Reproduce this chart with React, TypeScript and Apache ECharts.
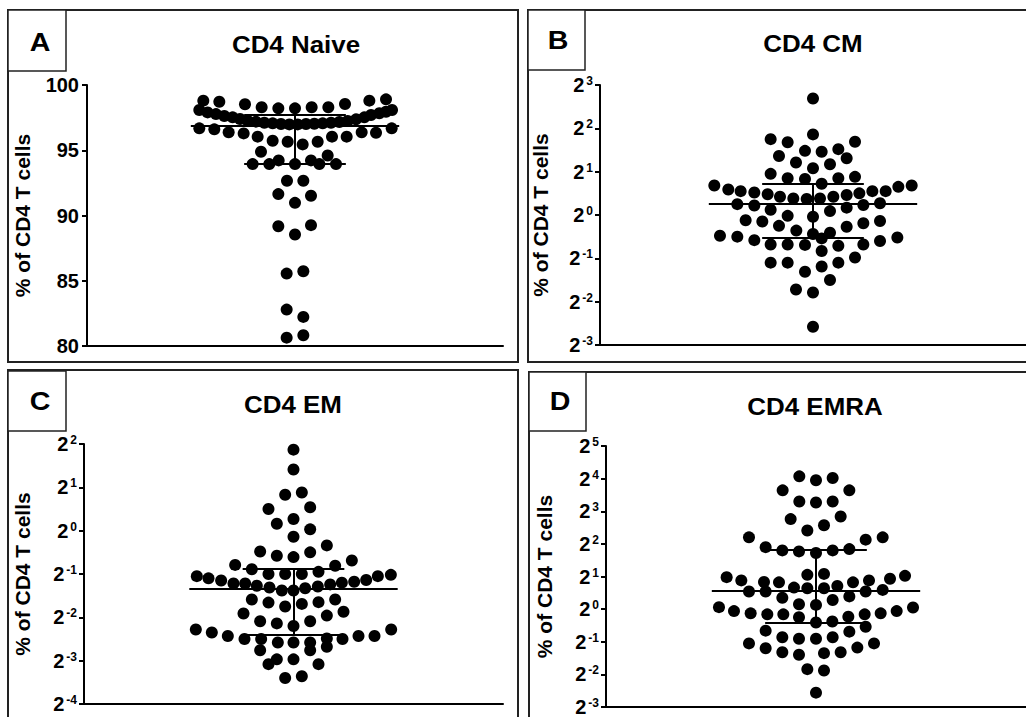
import React, { useEffect, useRef } from "react";
import * as echarts from "echarts";

const FONT = "'Liberation Sans', Arial, Helvetica, sans-serif";

// ---------------- DATA ----------------
// Each point: [swarm offset (dot columns from centre), value]

// Panel A – CD4 Naive, % of CD4 T cells (linear axis)
const naivePoints: number[][] = [
  [-5.5, 98.8], [-4.54, 98.72], [-3.0, 98.52], [-2.0, 98.29], [-1.0, 98.21], [0, 98.21],
  [1.0, 98.29], [2.0, 98.29], [3.0, 98.54], [4.46, 98.8], [5.46, 98.9],
  [-5.74, 98.08], [-5.24, 97.9], [-4.74, 97.77], [-4.24, 97.62], [-3.74, 97.52], [-3.3, 97.39],
  [-2.84, 97.26], [-2.34, 97.19], [-1.84, 97.11], [-1.34, 97.06], [-0.84, 97.01], [-0.34, 96.98],
  [0.16, 96.98], [0.66, 97.01], [1.16, 97.03], [1.66, 97.06], [2.16, 97.11], [2.66, 97.16],
  [3.16, 97.24], [3.66, 97.37], [4.16, 97.52], [4.56, 97.7], [5.06, 97.83], [5.46, 97.95], [5.82, 98.08],
  [-5.74, 96.68], [-4.84, 96.6], [-3.98, 96.37], [-3.08, 96.29], [-2.24, 96.04], [-1.34, 95.73],
  [-0.44, 95.65], [0.46, 95.45], [1.36, 95.65], [2.22, 96.04], [3.1, 96.04], [4.0, 96.37],
  [4.86, 96.34], [5.8, 96.68],
  [-2.04, 94.88], [1.96, 94.6], [-2.54, 93.94], [-1.54, 93.94], [-0.98, 94.22], [0, 93.94],
  [0.96, 94.22], [1.46, 93.94], [2.46, 93.94],
  [-0.48, 92.66], [0.5, 92.66], [-1.0, 91.64], [0, 90.97], [0.96, 91.51], [-1.0, 89.18],
  [0, 88.54], [0.96, 89.26], [-0.5, 85.55], [0.5, 85.73], [-0.5, 82.79], [0.5, 82.23],
  [-0.5, 80.64], [0.5, 80.82],
];
const naiveSummary = [96.9, 97.75, 93.99]; // median, upper quartile, lower quartile
const naiveTicks = [80, 85, 90, 95, 100];

// Panel B – CD4 CM, values as log2(% of CD4 T cells)
const cmPoints: number[][] = [
  [0, 2.69], [0, 1.86], [-2.54, 1.75], [-1.52, 1.68], [2.52, 1.69], [-2.04, 1.36], [-0.48, 1.48],
  [0.52, 1.46], [1.52, 1.52], [2.02, 1.31], [-1.02, 1.21], [0, 1.08], [1.02, 1.17], [-2.54, 0.95],
  [-1.52, 0.85], [-0.48, 0.83], [0.52, 0.72], [1.52, 0.85], [2.52, 0.88],
  [-5.92, 0.68], [-5.08, 0.59], [-4.34, 0.55], [-3.52, 0.52], [-2.72, 0.48], [-1.98, 0.42],
  [-1.18, 0.38], [-0.38, 0.37], [0.42, 0.38], [1.22, 0.42], [2.02, 0.46], [2.78, 0.5],
  [3.56, 0.55], [4.36, 0.55], [5.12, 0.65], [5.92, 0.68],
  [-4.54, 0.25], [-3.52, 0.22], [-2.54, 0.12], [-1.52, -0.02], [0, -0.04], [1.02, 0.09],
  [2.02, 0.17], [3.02, 0.23], [4.02, 0.27],
  [-4.04, -0.12], [-3.04, -0.15], [-2.04, -0.25], [-1.0, -0.36], [0, -0.44], [1.02, -0.41],
  [2.02, -0.27], [3.02, -0.19], [4.02, -0.14],
  [-5.58, -0.48], [-4.54, -0.5], [-3.52, -0.58], [-2.54, -0.68], [-1.52, -0.68], [-0.48, -0.69],
  [0.52, -0.54], [1.52, -0.71], [3.02, -0.68], [4.02, -0.6], [5.06, -0.52],
  [0.52, -0.83], [2.52, -0.98], [-2.54, -1.1], [-1.52, -1.1], [0.52, -1.19], [1.52, -1.1],
  [-0.48, -1.31], [1.02, -1.5], [-1.02, -1.72], [0, -1.79], [0, -2.58],
];
const cmSummary = [0.25, 0.72, -0.53];
const cmTicks = [-3, -2, -1, 0, 1, 2, 3];

// Panel C – CD4 EM, log2(% of CD4 T cells)
const emPoints: number[][] = [
  [0, 1.87], [0, 1.41], [-0.5, 0.83], [0.5, 0.88], [-1.5, 0.5], [1.0, 0.54], [-1.0, 0.16],
  [0, 0.27], [1.0, 0.03], [0, -0.14],
  [-2.0, -0.48], [-1.0, -0.58], [0, -0.61], [1.0, -0.5], [2.0, -0.34],
  [-3.5, -0.79], [-2.5, -0.89], [-1.5, -1.0], [-0.5, -1.0], [0.5, -1.0], [1.5, -0.95],
  [2.5, -0.81], [3.5, -0.69],
  [-5.8, -1.05], [-5.1, -1.1], [-4.34, -1.15], [-3.6, -1.22], [-2.9, -1.22], [-2.2, -1.27],
  [-1.44, -1.31], [-0.7, -1.38], [0, -1.38], [0.7, -1.33], [1.46, -1.29], [2.2, -1.24],
  [2.9, -1.2], [3.64, -1.18], [4.36, -1.14], [5.06, -1.05], [5.84, -1.02],
  [-2.5, -1.59], [-1.5, -1.66], [-0.5, -1.75], [0.5, -1.69], [1.5, -1.65], [2.5, -1.59],
  [-3.0, -1.91], [-2.0, -2.09], [-1.0, -2.14], [0, -2.2], [1.0, -2.09], [2.0, -1.96], [3.0, -1.87],
  [-5.86, -2.28], [-4.9, -2.35], [-3.94, -2.43], [-2.94, -2.5], [-1.94, -2.5], [-0.94, -2.58],
  [0, -2.58], [1.0, -2.58], [2.0, -2.49], [2.94, -2.5], [3.9, -2.43], [4.86, -2.43], [5.86, -2.28],
  [-2.0, -2.76], [1.0, -2.76], [2.0, -2.68], [0, -2.97], [-1.0, -2.97], [-1.5, -3.08],
  [1.5, -3.08], [-0.5, -3.4], [0.5, -3.36],
];
const emSummary = [-1.34, -0.88, -2.4];
const emTicks = [-4, -3, -2, -1, 0, 1, 2];

// Panel D – CD4 EMRA, log2(% of CD4 T cells)
const emraPoints: number[][] = [
  [-1.0, 4.07], [0, 3.95], [1.0, 4.02], [-2.0, 3.64], [2.0, 3.64], [-1.0, 3.3], [0, 3.27],
  [1.0, 3.3], [-1.52, 2.76], [1.48, 2.84], [-0.52, 2.41], [0.48, 2.57], [-4.02, 2.2],
  [2.98, 2.13], [4.0, 2.2],
  [-3.02, 1.9], [-2.02, 1.8], [-1.02, 1.77], [0, 1.72], [1.0, 1.8], [2.0, 1.84],
  [-0.52, 1.05], [0.48, 1.08],
  [-5.36, 0.98], [-4.48, 0.88], [-3.12, 0.83], [-2.22, 0.82], [2.22, 0.82], [3.18, 0.88],
  [4.44, 0.93], [5.34, 1.02],
  [-4.02, 0.54], [-3.02, 0.54], [-1.32, 0.66], [-0.52, 0.64], [0.48, 0.64], [1.28, 0.71],
  [2.98, 0.54], [4.0, 0.59],
  [-2.02, 0.35], [-1.02, 0.15], [0, 0.13], [1.0, 0.28], [2.0, 0.39],
  [-5.82, 0.06], [-4.92, -0.06], [-3.92, -0.13], [-2.92, -0.16], [-1.96, -0.16], [-1.02, -0.25],
  [0.98, -0.38], [1.94, -0.23], [2.92, -0.16], [3.88, -0.13], [4.84, -0.06], [5.82, 0.05],
  [0, -0.41],
  [-3.02, -0.66], [2.98, -0.54], [2.0, -0.69],
  [-2.02, -0.86], [-1.02, -0.91], [0, -0.91], [1.0, -0.86],
  [-4.02, -1.05], [-3.02, -1.2], [-2.02, -1.32], [-1.02, -1.4], [0.48, -1.35], [1.48, -1.32],
  [2.48, -1.18], [3.48, -1.05],
  [-0.52, -1.84], [0.48, -1.88], [0, -2.56],
];
const emraSummary = [0.56, 1.81, -0.42];
const emraTicks = [-3, -2, -1, 0, 1, 2, 3, 4, 5];

const panelTitles = ["CD4 Naive", "CD4 CM", "CD4 EM", "CD4 EMRA"];
const panelLetters = ["A", "B", "C", "D"];
const yAxisName = "% of CD4 T cells";

// ---------------- LAYOUT ----------------
const X_UNIT = 16.67; // px per swarm column
const MEDIAN_HALF = 6.25;
const CAP_HALF = 3.05;

const layouts = [
  { grid: { left: 87, top: 85, width: 416, height: 261 }, nameGap: 54, box: [8, 10, 510, 352], lbox: [8, 10, 58, 61], letter: [40, 42], title: [296, 44] },
  { grid: { left: 600, top: 85, width: 426, height: 260 }, nameGap: 49, box: [528, 10, 505, 352], lbox: [528, 10, 57, 60], letter: [558, 40], title: [813, 43] },
  { grid: { left: 84, top: 444, width: 419, height: 260 }, nameGap: 51, box: [8, 370, 510, 360], lbox: [8, 371, 58, 60], letter: [40, 401], title: [293, 404] },
  { grid: { left: 606, top: 446, width: 420, height: 261 }, nameGap: 51, box: [529, 372, 505, 360], lbox: [529, 372, 57, 59], letter: [560, 401], title: [815, 406] },
];

export default function App() {
  const ref = useRef<HTMLDivElement>(null);

  useEffect(() => {
    if (!ref.current) return;
    const chart = echarts.init(ref.current, undefined, { renderer: "svg" });

    const panels = [
      { points: naivePoints, summary: naiveSummary, ticks: naiveTicks, log: false },
      { points: cmPoints, summary: cmSummary, ticks: cmTicks, log: true },
      { points: emPoints, summary: emSummary, ticks: emTicks, log: true },
      { points: emraPoints, summary: emraSummary, ticks: emraTicks, log: true },
    ];

    const grid: any[] = [];
    const xAxis: any[] = [];
    const yAxis: any[] = [];
    const series: any[] = [];
    const graphic: any[] = [];

    panels.forEach((p, i) => {
      const L = layouts[i];
      grid.push({ ...L.grid, containLabel: false, outerBoundsMode: "none" });
      const half = L.grid.width / 2 / X_UNIT;
      xAxis.push({
        type: "value",
        gridIndex: i,
        min: -half,
        max: half,
        axisLine: { show: true, onZero: false, lineStyle: { color: "#000", width: 2 } },
        axisTick: { show: false },
        axisLabel: { show: false },
        splitLine: { show: false },
      });
      const tmin = p.ticks[0];
      const tmax = p.ticks[p.ticks.length - 1];
      const interval = p.ticks[1] - p.ticks[0];
      yAxis.push({
        type: "value",
        gridIndex: i,
        min: tmin,
        max: tmax,
        interval,
        name: yAxisName,
        nameLocation: "middle",
        nameGap: L.nameGap,
        nameRotate: 90,
        nameMoveOverlap: false,
        nameTextStyle: { fontFamily: FONT, fontWeight: "bold", fontSize: 21, color: "#000" },
        axisLine: { show: true, onZero: false, lineStyle: { color: "#000", width: 2 } },
        axisTick: { show: true, length: 5, inside: false, lineStyle: { color: "#000", width: 2 } },
        splitLine: { show: false },
        axisLabel: p.log
          ? {
              margin: 7,
              formatter: (v: number) => `{b|2}{s|${v}}`,
              rich: {
                b: { fontFamily: FONT, fontWeight: "bold", fontSize: 20, color: "#000", lineHeight: 20 },
                s: { fontFamily: FONT, fontWeight: "bold", fontSize: 12, color: "#000", lineHeight: 12, verticalAlign: "top", padding: [0, 0, 0, 2] },
              },
            }
          : { margin: 8, fontFamily: FONT, fontWeight: "bold", fontSize: 20, color: "#000" },
      });

      series.push({
        type: "scatter",
        xAxisIndex: i,
        yAxisIndex: i,
        data: p.points,
        symbol: "circle",
        symbolSize: 12,
        itemStyle: { color: "#000", opacity: 1 },
        silent: true,
        z: 2,
      });

      const [med, up, lo] = p.summary;
      series.push({
        type: "lines",
        coordinateSystem: "cartesian2d",
        xAxisIndex: i,
        yAxisIndex: i,
        silent: true,
        z: 3,
        lineStyle: { color: "#000", width: 2, opacity: 1, curveness: 0 },
        data: [
          { coords: [[-MEDIAN_HALF, med], [MEDIAN_HALF, med]] },
          { coords: [[-CAP_HALF, up], [CAP_HALF, up]] },
          { coords: [[-CAP_HALF, lo], [CAP_HALF, lo]] },
          { coords: [[0, lo], [0, up]] },
        ],
      });

      graphic.push({
        type: "rect",
        shape: { x: L.box[0], y: L.box[1], width: L.box[2], height: L.box[3] },
        style: { fill: "none", stroke: "#222", lineWidth: 2 },
        silent: true,
      });
      graphic.push({
        type: "rect",
        shape: { x: L.lbox[0], y: L.lbox[1], width: L.lbox[2], height: L.lbox[3] },
        style: { fill: "#fff", stroke: "#222", lineWidth: 1.5 },
        silent: true,
      });
      graphic.push({
        type: "text",
        x: L.letter[0],
        y: L.letter[1],
        scaleX: 1.1,
        style: {
          text: panelLetters[i],
          font: `bold 26px ${FONT}`,
          fill: "#000",
          align: "center",
          verticalAlign: "middle",
          textAlign: "center",
          textVerticalAlign: "middle",
        },
        silent: true,
      });
      graphic.push({
        type: "text",
        x: L.title[0],
        y: L.title[1],
        scaleX: 1.08,
        style: {
          text: panelTitles[i],
          font: `bold 24px ${FONT}`,
          fill: "#000",
          align: "center",
          verticalAlign: "middle",
          textAlign: "center",
          textVerticalAlign: "middle",
        },
        silent: true,
      });
    });

    chart.setOption({
      animation: false,
      backgroundColor: "#fff",
      grid,
      xAxis,
      yAxis,
      series,
      graphic,
    });

    return () => chart.dispose();
  }, []);

  return (
    <div
      ref={ref}
      style={{ position: "fixed", left: 0, top: 0, width: 1026, height: 717, background: "#fff" }}
    />
  );
}
